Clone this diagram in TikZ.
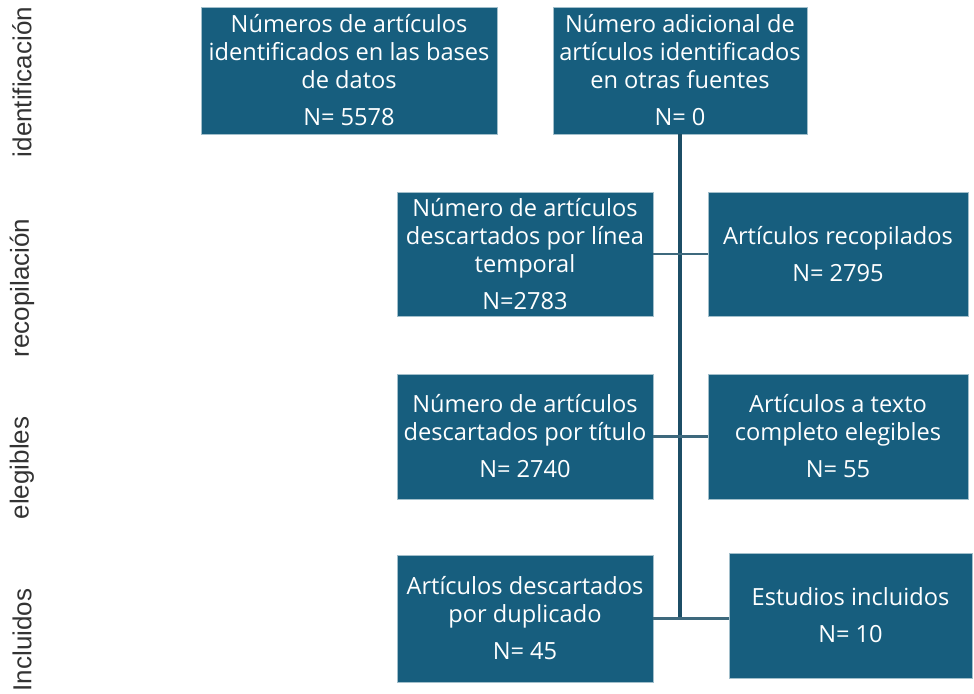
\documentclass[tikz,border=0pt]{standalone}
\usepackage{fontspec}
\setmainfont{Open Sans}
\newfontfamily\sidefont{Liberation Sans}
\usepackage{tikz}
\definecolor{boxblue}{RGB}{23,94,126}
\definecolor{linkblue}{RGB}{28,78,102}
\tikzset{
  stage/.style = {fill=boxblue, draw=boxblue!40, line width=0.4pt, text=white, align=center, inner sep=0,
                  font=\fontsize{16.8}{19.9}\selectfont},
  phase/.style = {rotate=90, font=\sidefont\fontsize{18.5}{20}\selectfont, text=black!80},
  link/.style = {linkblue, line width=2.2pt},
  branch/.style = {linkblue!85, line width=1.8pt}
}

\begin{document}
\begin{tikzpicture}[x=0.025cm, y=-0.025cm]
    \useasboundingbox (0, 0) rectangle (974, 693);

    % stage names on the left
    \node [phase] (identificacion) at (22, 82) {identificación};
    \node [phase] (recopilacion) at (22, 288) {recopilación};
    \node [phase] (elegibles) at (22, 468) {elegibles};
    \node [phase] (incluidos) at (22, 640) {Incluidos};

    % boxes
    \node [stage, minimum width=7.4cm, minimum height=3.175cm] (bases) at (349, 70.5)
      {Números de artículos\\identificados en las bases\\de datos\\[6.5pt]N= 5578};
    \node [stage, minimum width=6.35cm, minimum height=3.175cm] (otras) at (680, 70.5)
      {Número adicional de\\artículos identificados\\en otras fuentes\\[6.5pt]N= 0};
    \node [stage, minimum width=6.4cm, minimum height=3.1cm] (temporal) at (525, 254)
      {Número de artículos\\descartados por línea\\temporal\\[6.5pt]N=2783};
    \node [stage, minimum width=6.5cm, minimum height=3.1cm] (recopilados) at (838, 254)
      {Artículos recopilados\\[6.5pt]N= 2795};
    \node [stage, minimum width=6.4cm, minimum height=3.125cm] (titulo) at (525, 436.5)
      {Número de artículos\\descartados por título\\[6.5pt]N= 2740};
    \node [stage, minimum width=6.5cm, minimum height=3.125cm] (completo) at (838, 436.5)
      {Artículos a texto\\completo elegibles\\[6.5pt]N= 55};
    \node [stage, minimum width=6.4cm, minimum height=3.175cm] (duplicado) at (525, 618.5)
      {Artículos descartados\\por duplicado\\[6.5pt]N= 45};
    \node [stage, minimum width=6.075cm, minimum height=3.125cm] (estudios) at (850.5, 615.5)
      {Estudios incluidos\\[6.5pt]N= 10};

    % connectors
    \coordinate (fin) at (otras.south |- duplicado.east);
    \draw [link] (otras.south) -- (fin);
    \draw [branch] (temporal.east) -- (recopilados.west);
    \draw [branch] (titulo.east) -- (titulo.east -| completo.west);
    \draw [branch] (duplicado.east) -- (duplicado.east -| estudios.west);
\end{tikzpicture}
\end{document}
